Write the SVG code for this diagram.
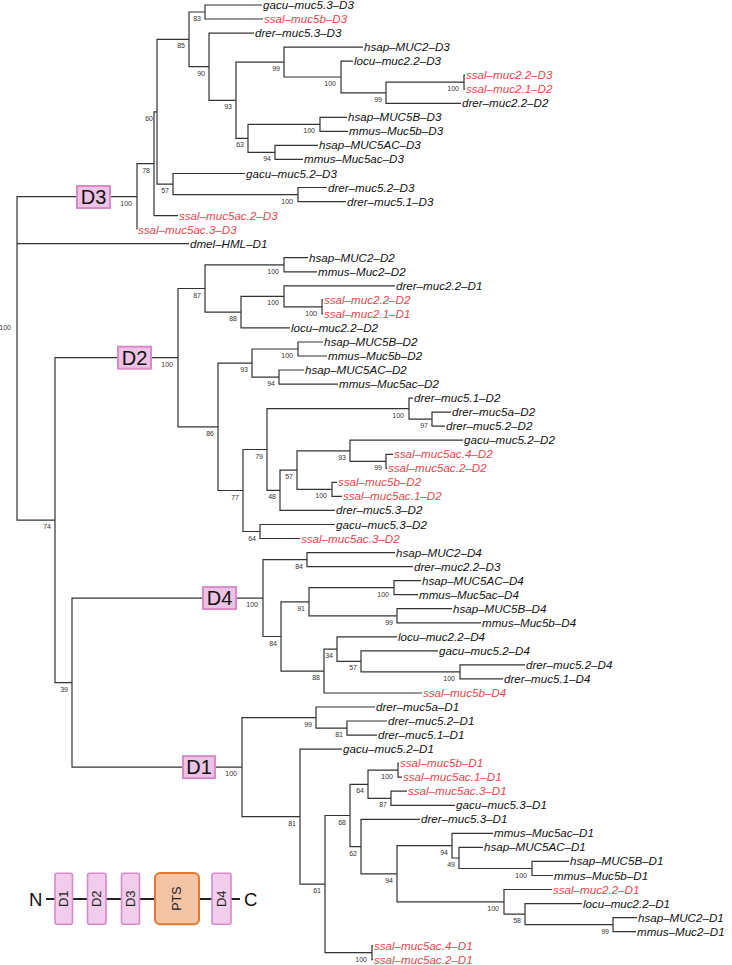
<svg xmlns="http://www.w3.org/2000/svg" width="732" height="965" viewBox="0 0 732 965">
<style>
.br{fill:none;stroke:#333;stroke-width:1.2}
.lf{font-family:"Liberation Sans",Arial,sans-serif;font-style:italic;font-size:11.6px;fill:#111}
.r{fill:#e8474c}
.bs{font-family:"Liberation Sans",Arial,sans-serif;font-size:7px;fill:#333;text-anchor:end}
.dbox{fill:#edc3e5;stroke:#d88ac9;stroke-width:2}
.dlab{font-family:"Liberation Sans",Arial,sans-serif;font-size:20px;fill:#111;text-anchor:middle}
.lgbox{fill:#f0cdea;stroke:#d88ac9;stroke-width:1.6}
.pts{fill:#f3c4a6;stroke:#e07a30;stroke-width:2}
.lgt{font-family:"Liberation Sans",Arial,sans-serif;font-size:13px;fill:#222;text-anchor:middle}
.nc{font-family:"Liberation Sans",Arial,sans-serif;font-size:18.5px;fill:#111}
</style>
<rect width="732" height="965" fill="#fff"/>
<g id="connectors" class="br">
<path d="M137,196.7H17V520.2H55M17,243.7H189"/>
<path d="M154,163.7H137V229.6"/>
<path d="M157,111.8H154V215.6H178"/>
<path d="M189,39.4H157V184.1H173"/>
<path d="M205,12H189V66.7H209"/>
<path d="M262,5H205V19H263"/>
<path d="M254,33.1H209V100.3H236"/>
<path d="M284,62.1H236V138.4H248"/>
<path d="M363,47.1H284V77H341"/>
<path d="M353,61.2H341V92.8H386"/>
<path d="M464,82.2H386V103.3H461"/>
<path d="M465,75.2H464V89.2H465"/>
<path d="M320,124.4H248V152.4H275"/>
<path d="M347,117.3H320V131.4H348"/>
<path d="M318,145.4H275V159.4H303"/>
<path d="M245,173.5H173V194.6H298"/>
<path d="M327,187.5H298V201.6H346"/>
<path d="M178,357.7H55V682.6H72"/>
<path d="M205,288.5H178V426.8H218"/>
<path d="M284,264.8H205V312.2H241"/>
<path d="M308,257.7H284V271.8H317"/>
<path d="M284,296.4H241V327.9H290"/>
<path d="M395,285.8H284V306.9H322"/>
<path d="M323,299.8H322V313.9H323"/>
<path d="M252,363.1H218V490.5H243"/>
<path d="M298,349H252V377.1H279"/>
<path d="M323,342H298V356H327"/>
<path d="M304,370H279V384.1H338"/>
<path d="M267,449.5H243V531.5H260"/>
<path d="M409,408.7H267V490.3H280"/>
<path d="M413,398.1H409V419.2H432"/>
<path d="M451,412.2H432V426.2H445"/>
<path d="M297,470.1H280V510.4H335"/>
<path d="M350,450.8H297V489.4H332"/>
<path d="M463,440.2H350V461.3H386"/>
<path d="M393,454.3H386V468.3H387"/>
<path d="M337,482.4H332V496.4H342"/>
<path d="M335,524.5H260V538.5H300"/>
<path d="M263,598.1H72V767.1H242"/>
<path d="M307,559.6H263V636.5H281"/>
<path d="M395,552.6H307V566.6H413"/>
<path d="M309,601.8H281V671.1H324"/>
<path d="M394,587.7H309V615.8H397"/>
<path d="M421,580.6H394V594.7H418"/>
<path d="M452,608.7H397V622.8H481"/>
<path d="M337,649.1H324V693H422"/>
<path d="M397,636.8H337V661.4H361"/>
<path d="M438,650.8H361V671.9H460"/>
<path d="M525,664.9H460V678.9H503"/>
<path d="M316,717.6H242V816.6H300"/>
<path d="M375,707H316V728.1H347"/>
<path d="M387,721H347V735.1H377"/>
<path d="M342,749.1H300V884.1H325"/>
<path d="M350,815.5H325V952.7H372"/>
<path d="M368,784.3H350V846.6H361"/>
<path d="M398,770.2H368V798.3H391"/>
<path d="M399,763.2H398V777.2H402"/>
<path d="M407,791.2H391V805.3H455"/>
<path d="M420,819.3H361V873.8H397"/>
<path d="M452,845.7H397V901.8H504"/>
<path d="M493,833.4H452V858H459"/>
<path d="M483,847.4H459V868.5H532"/>
<path d="M569,861.4H532V875.5H553"/>
<path d="M552,889.5H504V914.1H525"/>
<path d="M582,903.6H525V924.6H613"/>
<path d="M637,917.6H613V931.6H636"/>
<path d="M373,945.7H372V959.7H373"/>
</g>
<g id="clade-boxes">
<g id="box-D3"><rect class="dbox" x="77" y="186" width="33" height="22"/><text class="dlab" x="93.5" y="204.2">D3</text></g>
<g id="box-D2"><rect class="dbox" x="118" y="346.7" width="33" height="22"/><text class="dlab" x="134.5" y="364.9">D2</text></g>
<g id="box-D4"><rect class="dbox" x="203" y="587.1" width="33" height="22"/><text class="dlab" x="219.5" y="605.3">D4</text></g>
<g id="box-D1"><rect class="dbox" x="183" y="756.1" width="32" height="22"/><text class="dlab" x="199" y="774.3">D1</text></g>
</g>
<g id="internal-nodes">
<g id="n-root"><text class="bs" x="11" y="329.5">100</text></g>
<g id="n137"><text class="bs" x="132" y="205.7">100</text></g>
<g id="n154"><text class="bs" x="150" y="172.7">78</text></g>
<g id="n157"><text class="bs" x="153" y="120.8">60</text></g>
<g id="n189"><text class="bs" x="185" y="48.4">85</text></g>
<g id="n205"><text class="bs" x="201" y="21">83</text></g>
<g id="n209"><text class="bs" x="205" y="75.7">90</text></g>
<g id="n236"><text class="bs" x="232" y="109.3">93</text></g>
<g id="n284a"><text class="bs" x="280" y="71.1">99</text></g>
<g id="n341"><text class="bs" x="336" y="86">100</text></g>
<g id="n386"><text class="bs" x="382" y="101.8">99</text></g>
<g id="n464"><text class="bs" x="459" y="91.2">100</text></g>
<g id="n248"><text class="bs" x="244" y="147.4">63</text></g>
<g id="n320"><text class="bs" x="315" y="133.4">100</text></g>
<g id="n275"><text class="bs" x="271" y="161.4">94</text></g>
<g id="n173"><text class="bs" x="169" y="193.1">57</text></g>
<g id="n298a"><text class="bs" x="293" y="203.6">100</text></g>
<g id="n55"><text class="bs" x="51" y="529.2">74</text></g>
<g id="n72"><text class="bs" x="68" y="691.6">39</text></g>
<g id="n178"><text class="bs" x="173" y="366.7">100</text></g>
<g id="n205b"><text class="bs" x="201" y="297.5">87</text></g>
<g id="n241"><text class="bs" x="237" y="321.2">88</text></g>
<g id="n284b"><text class="bs" x="279" y="273.8">100</text></g>
<g id="n284c"><text class="bs" x="279" y="305.4">100</text></g>
<g id="n322"><text class="bs" x="317" y="315.9">100</text></g>
<g id="n218"><text class="bs" x="214" y="435.8">86</text></g>
<g id="n252"><text class="bs" x="248" y="372.1">93</text></g>
<g id="n298b"><text class="bs" x="293" y="358">100</text></g>
<g id="n279"><text class="bs" x="275" y="386.1">94</text></g>
<g id="n243"><text class="bs" x="239" y="499.5">77</text></g>
<g id="n267"><text class="bs" x="263" y="458.5">79</text></g>
<g id="n409"><text class="bs" x="404" y="417.7">100</text></g>
<g id="n432"><text class="bs" x="428" y="428.2">97</text></g>
<g id="n350b"><text class="bs" x="346" y="459.8">93</text></g>
<g id="n386b"><text class="bs" x="382" y="470.3">99</text></g>
<g id="n297"><text class="bs" x="293" y="479.1">57</text></g>
<g id="n280"><text class="bs" x="276" y="499.3">48</text></g>
<g id="n332"><text class="bs" x="327" y="498.4">100</text></g>
<g id="n260"><text class="bs" x="256" y="540.5">64</text></g>
<g id="n263"><text class="bs" x="258" y="607.1">100</text></g>
<g id="n307"><text class="bs" x="303" y="568.6">84</text></g>
<g id="n281"><text class="bs" x="277" y="645.5">84</text></g>
<g id="n309"><text class="bs" x="305" y="610.8">91</text></g>
<g id="n394"><text class="bs" x="389" y="596.7">100</text></g>
<g id="n397"><text class="bs" x="393" y="624.8">99</text></g>
<g id="n324"><text class="bs" x="320" y="680.1">88</text></g>
<g id="n337"><text class="bs" x="333" y="658.1">34</text></g>
<g id="n361"><text class="bs" x="357" y="670.4">57</text></g>
<g id="n460"><text class="bs" x="455" y="680.9">100</text></g>
<g id="n242"><text class="bs" x="237" y="776.1">100</text></g>
<g id="n316"><text class="bs" x="312" y="726.6">99</text></g>
<g id="n347"><text class="bs" x="343" y="737.1">81</text></g>
<g id="n300"><text class="bs" x="296" y="825.6">81</text></g>
<g id="n325"><text class="bs" x="321" y="893.1">61</text></g>
<g id="n350c"><text class="bs" x="346" y="824.5">68</text></g>
<g id="n368"><text class="bs" x="364" y="793.3">64</text></g>
<g id="n398"><text class="bs" x="393" y="779.2">100</text></g>
<g id="n391"><text class="bs" x="387" y="807.3">87</text></g>
<g id="n361b"><text class="bs" x="357" y="855.6">62</text></g>
<g id="n397b"><text class="bs" x="393" y="882.8">94</text></g>
<g id="n452"><text class="bs" x="448" y="854.7">94</text></g>
<g id="n459"><text class="bs" x="455" y="867">49</text></g>
<g id="n532"><text class="bs" x="527" y="877.5">100</text></g>
<g id="n504"><text class="bs" x="499" y="910.8">100</text></g>
<g id="n525"><text class="bs" x="521" y="923.1">58</text></g>
<g id="n613"><text class="bs" x="609" y="933.6">99</text></g>
<g id="n372"><text class="bs" x="367" y="961.7">100</text></g>
</g>
<g id="tips" class="lf">
<g id="t0"><text x="263" y="9">gacu–muc5.3–D3</text></g>
<g id="t1"><text class="r" x="264" y="23">ssal–muc5b–D3</text></g>
<g id="t2"><text x="255" y="37.1">drer–muc5.3–D3</text></g>
<g id="t3"><text x="364" y="51.1">hsap–MUC2–D3</text></g>
<g id="t4"><text x="354" y="65.2">locu–muc2.2–D3</text></g>
<g id="t5"><text class="r" x="466" y="79.2">ssal–muc2.2–D3</text></g>
<g id="t6"><text class="r" x="466" y="93.2">ssal–muc2.1–D2</text></g>
<g id="t7"><text x="462" y="107.3">drer–muc2.2–D2</text></g>
<g id="t8"><text x="348" y="121.3">hsap–MUC5B–D3</text></g>
<g id="t9"><text x="349" y="135.4">mmus–Muc5b–D3</text></g>
<g id="t10"><text x="319" y="149.4">hsap–MUC5AC–D3</text></g>
<g id="t11"><text x="304" y="163.4">mmus–Muc5ac–D3</text></g>
<g id="t12"><text x="246" y="177.5">gacu–muc5.2–D3</text></g>
<g id="t13"><text x="328" y="191.5">drer–muc5.2–D3</text></g>
<g id="t14"><text x="347" y="205.6">drer–muc5.1–D3</text></g>
<g id="t15"><text class="r" x="179" y="219.6">ssal–muc5ac.2–D3</text></g>
<g id="t16"><text class="r" x="138" y="233.6">ssal–muc5ac.3–D3</text></g>
<g id="t17"><text x="190" y="247.7">dmel–HML–D1</text></g>
<g id="t18"><text x="309" y="261.7">hsap–MUC2–D2</text></g>
<g id="t19"><text x="318" y="275.8">mmus–Muc2–D2</text></g>
<g id="t20"><text x="396" y="289.8">drer–muc2.2–D1</text></g>
<g id="t21"><text class="r" x="324" y="303.8">ssal–muc2.2–D2</text></g>
<g id="t22"><text class="r" x="324" y="317.9">ssal–muc2.1–D1</text></g>
<g id="t23"><text x="291" y="331.9">locu–muc2.2–D2</text></g>
<g id="t24"><text x="324" y="346">hsap–MUC5B–D2</text></g>
<g id="t25"><text x="328" y="360">mmus–Muc5b–D2</text></g>
<g id="t26"><text x="305" y="374">hsap–MUC5AC–D2</text></g>
<g id="t27"><text x="339" y="388.1">mmus–Muc5ac–D2</text></g>
<g id="t28"><text x="414" y="402.1">drer–muc5.1–D2</text></g>
<g id="t29"><text x="452" y="416.2">drer–muc5a–D2</text></g>
<g id="t30"><text x="446" y="430.2">drer–muc5.2–D2</text></g>
<g id="t31"><text x="464" y="444.2">gacu–muc5.2–D2</text></g>
<g id="t32"><text class="r" x="394" y="458.3">ssal–muc5ac.4–D2</text></g>
<g id="t33"><text class="r" x="388" y="472.3">ssal–muc5ac.2–D2</text></g>
<g id="t34"><text class="r" x="338" y="486.4">ssal–muc5b–D2</text></g>
<g id="t35"><text class="r" x="343" y="500.4">ssal–muc5ac.1–D2</text></g>
<g id="t36"><text x="336" y="514.4">drer–muc5.3–D2</text></g>
<g id="t37"><text x="336" y="528.5">gacu–muc5.3–D2</text></g>
<g id="t38"><text class="r" x="301" y="542.5">ssal–muc5ac.3–D2</text></g>
<g id="t39"><text x="396" y="556.6">hsap–MUC2–D4</text></g>
<g id="t40"><text x="414" y="570.6">drer–muc2.2–D3</text></g>
<g id="t41"><text x="422" y="584.6">hsap–MUC5AC–D4</text></g>
<g id="t42"><text x="419" y="598.7">mmus–Muc5ac–D4</text></g>
<g id="t43"><text x="453" y="612.7">hsap–MUC5B–D4</text></g>
<g id="t44"><text x="482" y="626.8">mmus–Muc5b–D4</text></g>
<g id="t45"><text x="398" y="640.8">locu–muc2.2–D4</text></g>
<g id="t46"><text x="439" y="654.8">gacu–muc5.2–D4</text></g>
<g id="t47"><text x="526" y="668.9">drer–muc5.2–D4</text></g>
<g id="t48"><text x="504" y="682.9">drer–muc5.1–D4</text></g>
<g id="t49"><text class="r" x="423" y="697">ssal–muc5b–D4</text></g>
<g id="t50"><text x="376" y="711">drer–muc5a–D1</text></g>
<g id="t51"><text x="388" y="725">drer–muc5.2–D1</text></g>
<g id="t52"><text x="378" y="739.1">drer–muc5.1–D1</text></g>
<g id="t53"><text x="343" y="753.1">gacu–muc5.2–D1</text></g>
<g id="t54"><text class="r" x="400" y="767.2">ssal–muc5b–D1</text></g>
<g id="t55"><text class="r" x="403" y="781.2">ssal–muc5ac.1–D1</text></g>
<g id="t56"><text class="r" x="408" y="795.2">ssal–muc5ac.3–D1</text></g>
<g id="t57"><text x="456" y="809.3">gacu–muc5.3–D1</text></g>
<g id="t58"><text x="421" y="823.3">drer–muc5.3–D1</text></g>
<g id="t59"><text x="494" y="837.4">mmus–Muc5ac–D1</text></g>
<g id="t60"><text x="484" y="851.4">hsap–MUC5AC–D1</text></g>
<g id="t61"><text x="570" y="865.4">hsap–MUC5B–D1</text></g>
<g id="t62"><text x="554" y="879.5">mmus–Muc5b–D1</text></g>
<g id="t63"><text class="r" x="553" y="893.5">ssal–muc2.2–D1</text></g>
<g id="t64"><text x="583" y="907.6">locu–muc2.2–D1</text></g>
<g id="t65"><text x="638" y="921.6">hsap–MUC2–D1</text></g>
<g id="t66"><text x="637" y="935.6">mmus–Muc2–D1</text></g>
<g id="t67"><text class="r" x="374" y="949.7">ssal–muc5ac.4–D1</text></g>
<g id="t68"><text class="r" x="374" y="963.7">ssal–muc5ac.2–D1</text></g>
</g>
<g id="legend">
<path d="M46,899H240" fill="none" stroke="#222" stroke-width="1.8"/>
<text class="nc" x="29" y="905.6">N</text>
<text class="nc" x="244" y="905.6">C</text>
<g id="lg-D1"><rect class="lgbox" x="55" y="873.3" width="17.5" height="51" rx="2"/><text class="lgt" transform="translate(63.8,898.8) rotate(-90)" y="4.6">D1</text></g>
<g id="lg-D2"><rect class="lgbox" x="87.5" y="873.3" width="18.5" height="51" rx="2"/><text class="lgt" transform="translate(96.7,898.8) rotate(-90)" y="4.6">D2</text></g>
<g id="lg-D3"><rect class="lgbox" x="121.5" y="873.3" width="18" height="51" rx="2"/><text class="lgt" transform="translate(130.5,898.8) rotate(-90)" y="4.6">D3</text></g>
<g id="lg-PTS"><rect class="pts" x="155" y="873" width="44" height="51.3" rx="5"/><text class="lgt" style="font-size:12.5px" transform="translate(177,898.6) rotate(-90)" y="4.4">PTS</text></g>
<g id="lg-D4"><rect class="lgbox" x="212" y="873.3" width="19" height="51" rx="2"/><text class="lgt" transform="translate(221.5,898.8) rotate(-90)" y="4.6">D4</text></g>
</g>
</svg>
